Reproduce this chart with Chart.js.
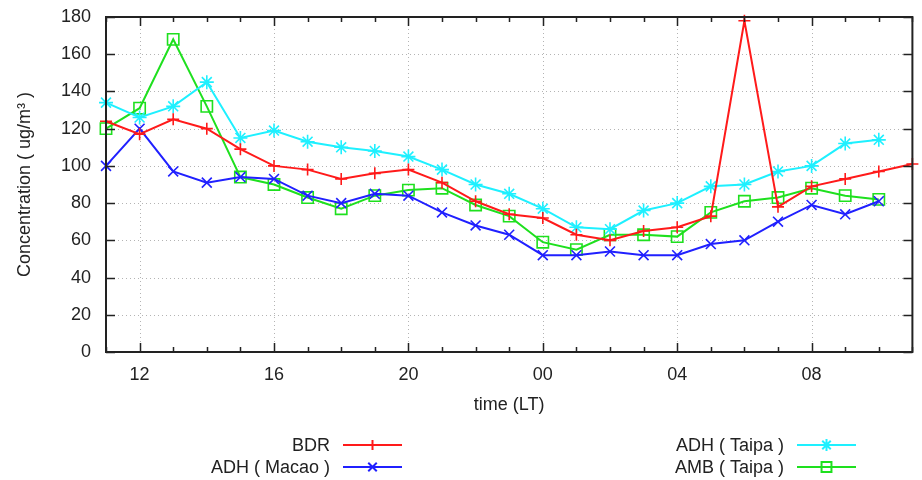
<!DOCTYPE html>
<html>
<head>
<meta charset="utf-8">
<script src="https://cdn.jsdelivr.net/npm/chart.js@4/dist/chart.umd.min.js"></script>
<style>
  html, body { margin: 0; padding: 0; background: #fff; }
  canvas { display: block; }
</style>
</head>
<body>
<canvas id="conc" width="922" height="480"></canvas>
<script>
// hour of day, 11 LT through 11 LT next day
const hours = [11, 12, 13, 14, 15, 16, 17, 18, 19, 20, 21, 22, 23, 24, 25, 26, 27, 28, 29, 30, 31, 32, 33, 34, 35];
const xTicks = [12, 16, 20, 24, 28, 32];
const xTickLabels = ["12", "16", "20", "00", "04", "08"];

const bdr = [124, 117, 125, 120, 109, 100, 98, 93, 96, 98, 91, 81, 74, 72, 63, 60, 65, 67, 73, 178, 78, 89, 93, 97, 101];
const adhMacao = [100, 120, 97, 91, 94, 93, 84, 80, 85, 84, 75, 68, 63, 52, 52, 54, 52, 52, 58, 60, 70, 79, 74, 81];
const adhTaipa = [134, 126, 132, 145, 115, 119, 113, 110, 108, 105, 98, 90, 85, 77, 67, 66, 76, 80, 89, 90, 97, 100, 112, 114];
const ambTaipa = [120, 131, 168, 132, 94, 90, 83, 77, 84, 87, 88, 79, 73, 59, 55, 63, 63, 62, 75, 81, 83, 88, 84, 82];

const FONT = "'Liberation Sans', Arial, sans-serif";
const pts = vals => vals.map((v, i) => ({ x: hours[i], y: v }));

function series(label, vals, color, style, r) {
  return {
    label: label,
    data: pts(vals),
    borderColor: color,
    backgroundColor: "rgba(0,0,0,0)",
    borderWidth: 2,
    tension: 0,
    pointStyle: style,
    pointRadius: r,
    pointHoverRadius: r,
    pointBorderColor: color,
    pointBackgroundColor: "rgba(0,0,0,0)",
    pointBorderWidth: 1.6,
    clip: false
  };
}

// dotted grid underneath, box and inward ticks on top
const framePlugin = {
  id: "frame",
  beforeDatasetsDraw(chart) {
    const { ctx, chartArea: a, scales: { x, y } } = chart;
    ctx.save();
    ctx.strokeStyle = "#b4b4b4";
    ctx.lineWidth = 1;
    ctx.setLineDash([1, 3]);
    ctx.beginPath();
    xTicks.forEach(v => {
      const px = Math.round(x.getPixelForValue(v)) + 0.5;
      ctx.moveTo(px, a.top); ctx.lineTo(px, a.bottom);
    });
    y.ticks.forEach(t => {
      if (t.value <= y.min || t.value >= y.max) return;
      const py = Math.round(y.getPixelForValue(t.value)) + 0.5;
      ctx.moveTo(a.left, py); ctx.lineTo(a.right, py);
    });
    ctx.stroke();
    ctx.restore();
  },
  afterDatasetsDraw(chart) {
    const { ctx, chartArea: a, scales: { x, y } } = chart;
    ctx.save();
    ctx.strokeStyle = "#222";
    ctx.lineWidth = 1.5;
    ctx.beginPath();
    x.ticks.forEach(t => {
      const px = Math.round(x.getPixelForValue(t.value)) + 0.5;
      const len = xTicks.includes(t.value) ? 9 : 5;
      ctx.moveTo(px, a.bottom); ctx.lineTo(px, a.bottom - len);
      ctx.moveTo(px, a.top); ctx.lineTo(px, a.top + len);
    });
    y.ticks.forEach(t => {
      const py = Math.round(y.getPixelForValue(t.value)) + 0.5;
      ctx.moveTo(a.left, py); ctx.lineTo(a.left + 9, py);
      ctx.moveTo(a.right, py); ctx.lineTo(a.right - 9, py);
    });
    ctx.stroke();
    ctx.lineWidth = 2;
    ctx.strokeRect(a.left, a.top, a.right - a.left, a.bottom - a.top);
    ctx.restore();
  }
};

// gnuplot style key: text right aligned, sample to the right
const keyPlugin = {
  id: "gnukey",
  afterDraw(chart) {
    const ctx = chart.ctx;
    const cols = [{ textRight: 330, x0: 343, x1: 402 }, { textRight: 784, x0: 797, x1: 856 }];
    const rows = [445, 467];
    ctx.save();
    ctx.font = "18px " + FONT;
    ctx.textAlign = "right";
    ctx.textBaseline = "middle";
    chart.data.datasets.forEach((ds, i) => {
      const c = cols[Math.floor(i / 2)], yy = rows[i % 2];
      ctx.fillStyle = "#222";
      ctx.fillText(ds.label, c.textRight, yy + 1);
      ctx.strokeStyle = ds.borderColor;
      ctx.lineWidth = 2;
      ctx.beginPath();
      ctx.moveTo(c.x0, yy); ctx.lineTo(c.x1, yy);
      ctx.stroke();
      ctx.fillStyle = "rgba(0,0,0,0)";
      Chart.helpers.drawPoint(ctx, {
        pointStyle: ds.pointStyle, radius: ds.pointRadius - 1, rotation: 0, borderWidth: 1.6
      }, (c.x0 + c.x1) / 2, yy);
    });
    ctx.restore();
  }
};

new Chart(document.getElementById("conc"), {
  type: "line",
  data: {
    datasets: [
      series("BDR", bdr, "#ff1a1a", "cross", 6),
      series("ADH ( Macao )", adhMacao, "#2020ff", "crossRot", 7),
      series("ADH ( Taipa )", adhTaipa, "#1ef0ff", "star", 7),
      series("AMB ( Taipa )", ambTaipa, "#1ee01e", "rect", 8)
    ]
  },
  options: {
    responsive: false,
    animation: false,
    devicePixelRatio: 1,
    layout: { padding: { top: 17, right: 1, left: 0, bottom: 0 } },
    plugins: {
      legend: { display: false },
      tooltip: { enabled: false }
    },
    scales: {
      x: {
        type: "linear",
        min: 11,
        max: 35,
        grid: { display: false, drawTicks: false },
        border: { display: false },
        ticks: {
          stepSize: 1,
          autoSkip: false,
          maxRotation: 0,
          padding: 12,
          color: "#222",
          font: { family: FONT, size: 18 },
          callback: v => {
            const k = xTicks.indexOf(v);
            return k >= 0 ? xTickLabels[k] : "";
          }
        },
        title: {
          display: true,
          text: "time (LT)",
          color: "#222",
          font: { family: FONT, size: 18 },
          padding: { top: 0, bottom: 64 }
        },
        afterFit: s => {
          s.height = 128;
          s.paddingLeft = 0;
          s.paddingRight = 0;
        }
      },
      y: {
        min: 0,
        max: 180,
        grid: { display: false, drawTicks: false },
        border: { display: false },
        ticks: {
          stepSize: 20,
          padding: 15,
          color: "#222",
          font: { family: FONT, size: 18 }
        },
        title: {
          display: true,
          text: "Concentration ( ug/m³ )",
          color: "#222",
          font: { family: FONT, size: 18 },
          padding: { top: 14, bottom: 0 }
        },
        afterFit: s => {
          s.width = 106;
          s.paddingTop = 0;
          s.paddingBottom = 0;
        }
      }
    }
  },
  plugins: [framePlugin, keyPlugin]
});
</script>
</body>
</html>
